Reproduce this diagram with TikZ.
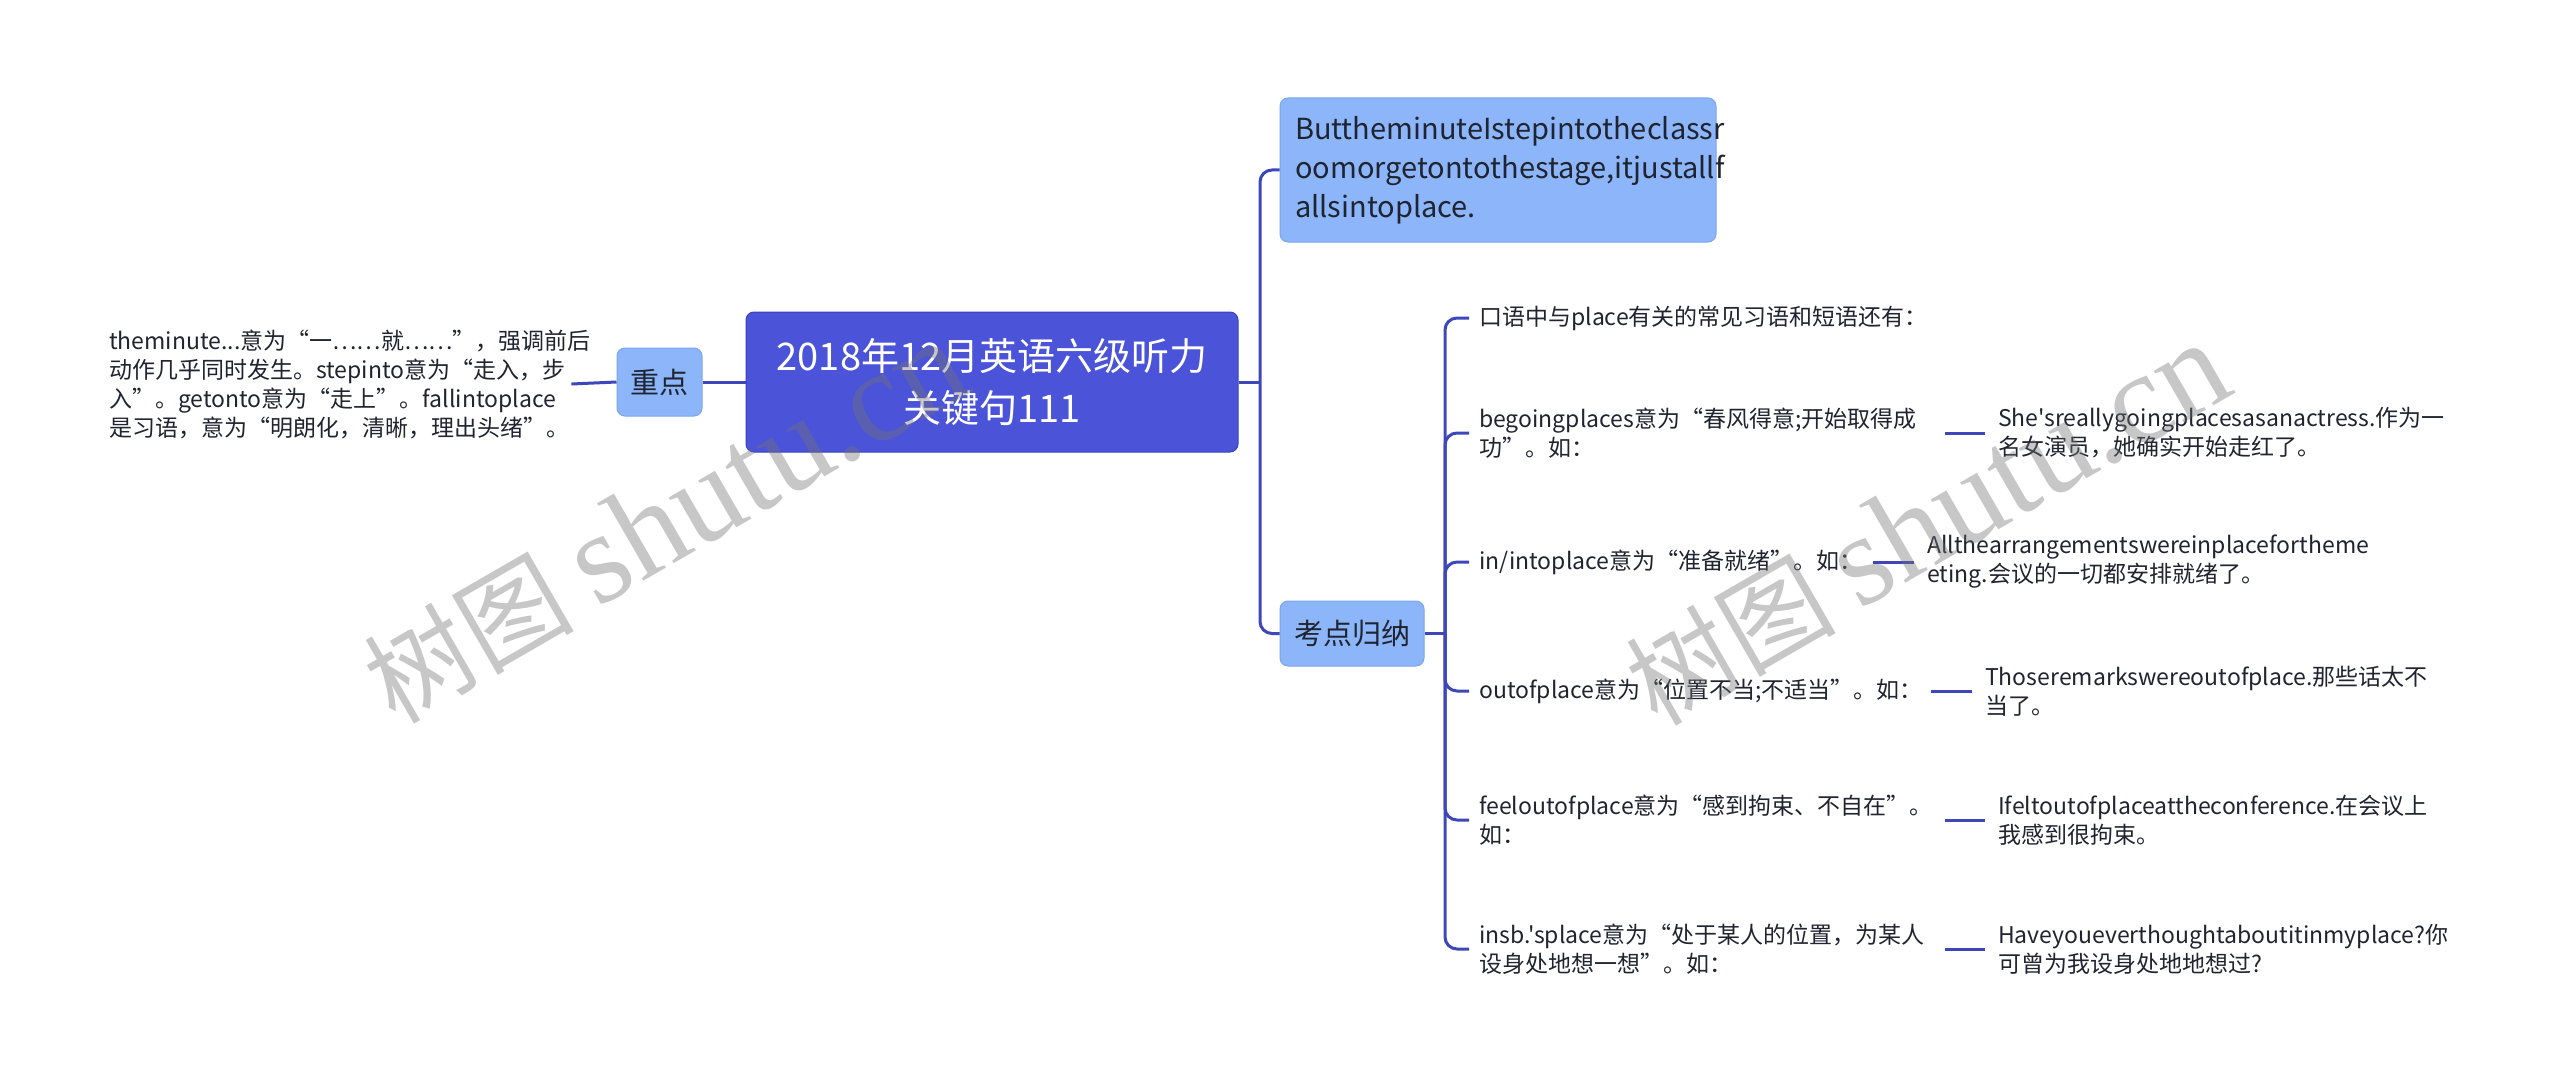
\documentclass[tikz,border=0pt]{standalone}
\usepackage{fontspec}
\setmainfont{Noto Sans CJK SC}[Ligatures=TeXOff]
\newfontfamily\wmlatin{Liberation Serif}
\hyphenpenalty=10000 \exhyphenpenalty=10000
\definecolor{linec}{HTML}{3E47B9}
\definecolor{rootc}{HTML}{4B53D8}
\definecolor{rootd}{HTML}{3A42BE}
\definecolor{subc}{HTML}{8CB5FA}
\definecolor{subd}{HTML}{7BA5EE}
\definecolor{txtc}{HTML}{1F2430}
\tikzset{
  conn/.style={draw=linec, line width=3pt},
  elbow/.style={conn, rounded corners=12pt},
  rootbox/.style={rectangle, rounded corners=8pt, fill=rootc, draw=rootd, line width=1pt,
    text=white, font=\fontsize{38}{52}\selectfont, align=center, inner sep=0pt},
  subbox/.style={rectangle, rounded corners=8pt, fill=subc, draw=subd, line width=1pt,
    text=txtc, font=\fontsize{29}{39}\selectfont, inner sep=0pt},
  leaf/.style={anchor=west, font=\fontsize{23}{29}\selectfont, text=txtc, align=left,
    inner ysep=0pt, inner xsep=10pt},
  extext/.style={anchor=west, font=\fontsize{23}{29}\selectfont, text=txtc, align=left,
    inner ysep=0pt, inner xsep=13pt},
  wm/.style={text=black!55, opacity=0.4, inner sep=0pt}
}
\begin{document}
\begin{tikzpicture}[x=1pt,y=-1pt]
\fill[white] (0,0) rectangle (2560,1089);
\useasboundingbox (0,0) rectangle (2560,1089);

% main nodes
\node[rootbox, minimum width=492pt, minimum height=140pt] (root) at (992,382)
  {2018年12月英语六级听力\\关键句111};
\node[subbox, minimum width=85pt, minimum height=68pt] (zd) at (659.5,382) {重点};
\node[leaf, text width=451pt, inner xsep=11pt] (lt) at (98,384)
  {theminute...意为“一……就……”，强调前后\\动作几乎同时发生。stepinto意为“走入，步\\入”。getonto意为“走上”。fallintoplace\\是习语，意为“明朗化，清晰，理出头绪”。};
\node[subbox, minimum width=436pt, minimum height=144pt, text width=406pt, align=left,
  inner xsep=15pt] (c1) at (1498,170)
  {ButtheminuteIstepintotheclassr\\oomorgetontothestage,itjustallf\\allsintoplace.};
\node[subbox, minimum width=144pt, minimum height=65pt] (kd) at (1352,633.5) {考点归纳};

% leaves of 考点归纳
\node[leaf] (l1) at (1469,318) {口语中与place有关的常见习语和短语还有：};
\node[leaf, text width=456pt] (l2) at (1469,433) {begoingplaces意为“春风得意;开始取得成\\功”。如：};
\node[leaf, text width=384pt] (l3) at (1469,562) {in/intoplace意为“准备就绪”。如：};
\node[leaf, text width=442pt] (l4) at (1469,691) {outofplace意为“位置不当;不适当”。如：};
\node[leaf, text width=456pt] (l5) at (1469,820) {feeloutofplace意为“感到拘束、不自在”。\\如：};
\node[leaf, text width=456pt] (l6) at (1469,949) {insb.'splace意为“处于某人的位置，为某人\\设身处地想一想”。如：};

% examples
\node[extext] (e2) at (1985,433) {She'sreallygoingplacesasanactress.作为一\\名女演员，她确实开始走红了。};
\node[extext] (e3) at (1914,562) {Allthearrangementswereinplacefortheme\\eting.会议的一切都安排就绪了。};
\node[extext] (e4) at (1972,691) {Thoseremarkswereoutofplace.那些话太不\\当了。};
\node[extext] (e5) at (1985,820) {Ifeltoutofplaceattheconference.在会议上\\我感到很拘束。};
\node[extext] (e6) at (1985,949) {Haveyoueverthoughtaboutitinmyplace?你\\可曾为我设身处地地想过?};

% connectors
\coordinate (ltc) at (lt.east);
\draw[conn] (ltc) -- (zd.west);
\draw[conn] (zd.east) -- (root.west);
\coordinate (j1) at (1260,382);
\draw[conn] (root.east) -- (j1);
\draw[elbow] (j1) |- (c1.west);
\draw[elbow] (j1) |- (kd.west);
\coordinate (j2) at (1445,633.5);
\draw[conn] (kd.east) -- (j2);
\foreach \i in {1,...,6} { \draw[elbow] (j2) |- (l\i.west); }
\foreach \i in {2,...,6} { \draw[conn] (l\i.east) -- (e\i.west); }

% watermarks
\node[wm, rotate=30] (wm1) at (665,522)
  {\fontsize{105}{105}\selectfont 树图 {\wmlatin\fontsize{130}{130}\selectfont shutu.cn}};
\node[wm, rotate=30] (wm2) at (1927,524)
  {\fontsize{105}{105}\selectfont 树图 {\wmlatin\fontsize{130}{130}\selectfont shutu.cn}};
\end{tikzpicture}
\end{document}
